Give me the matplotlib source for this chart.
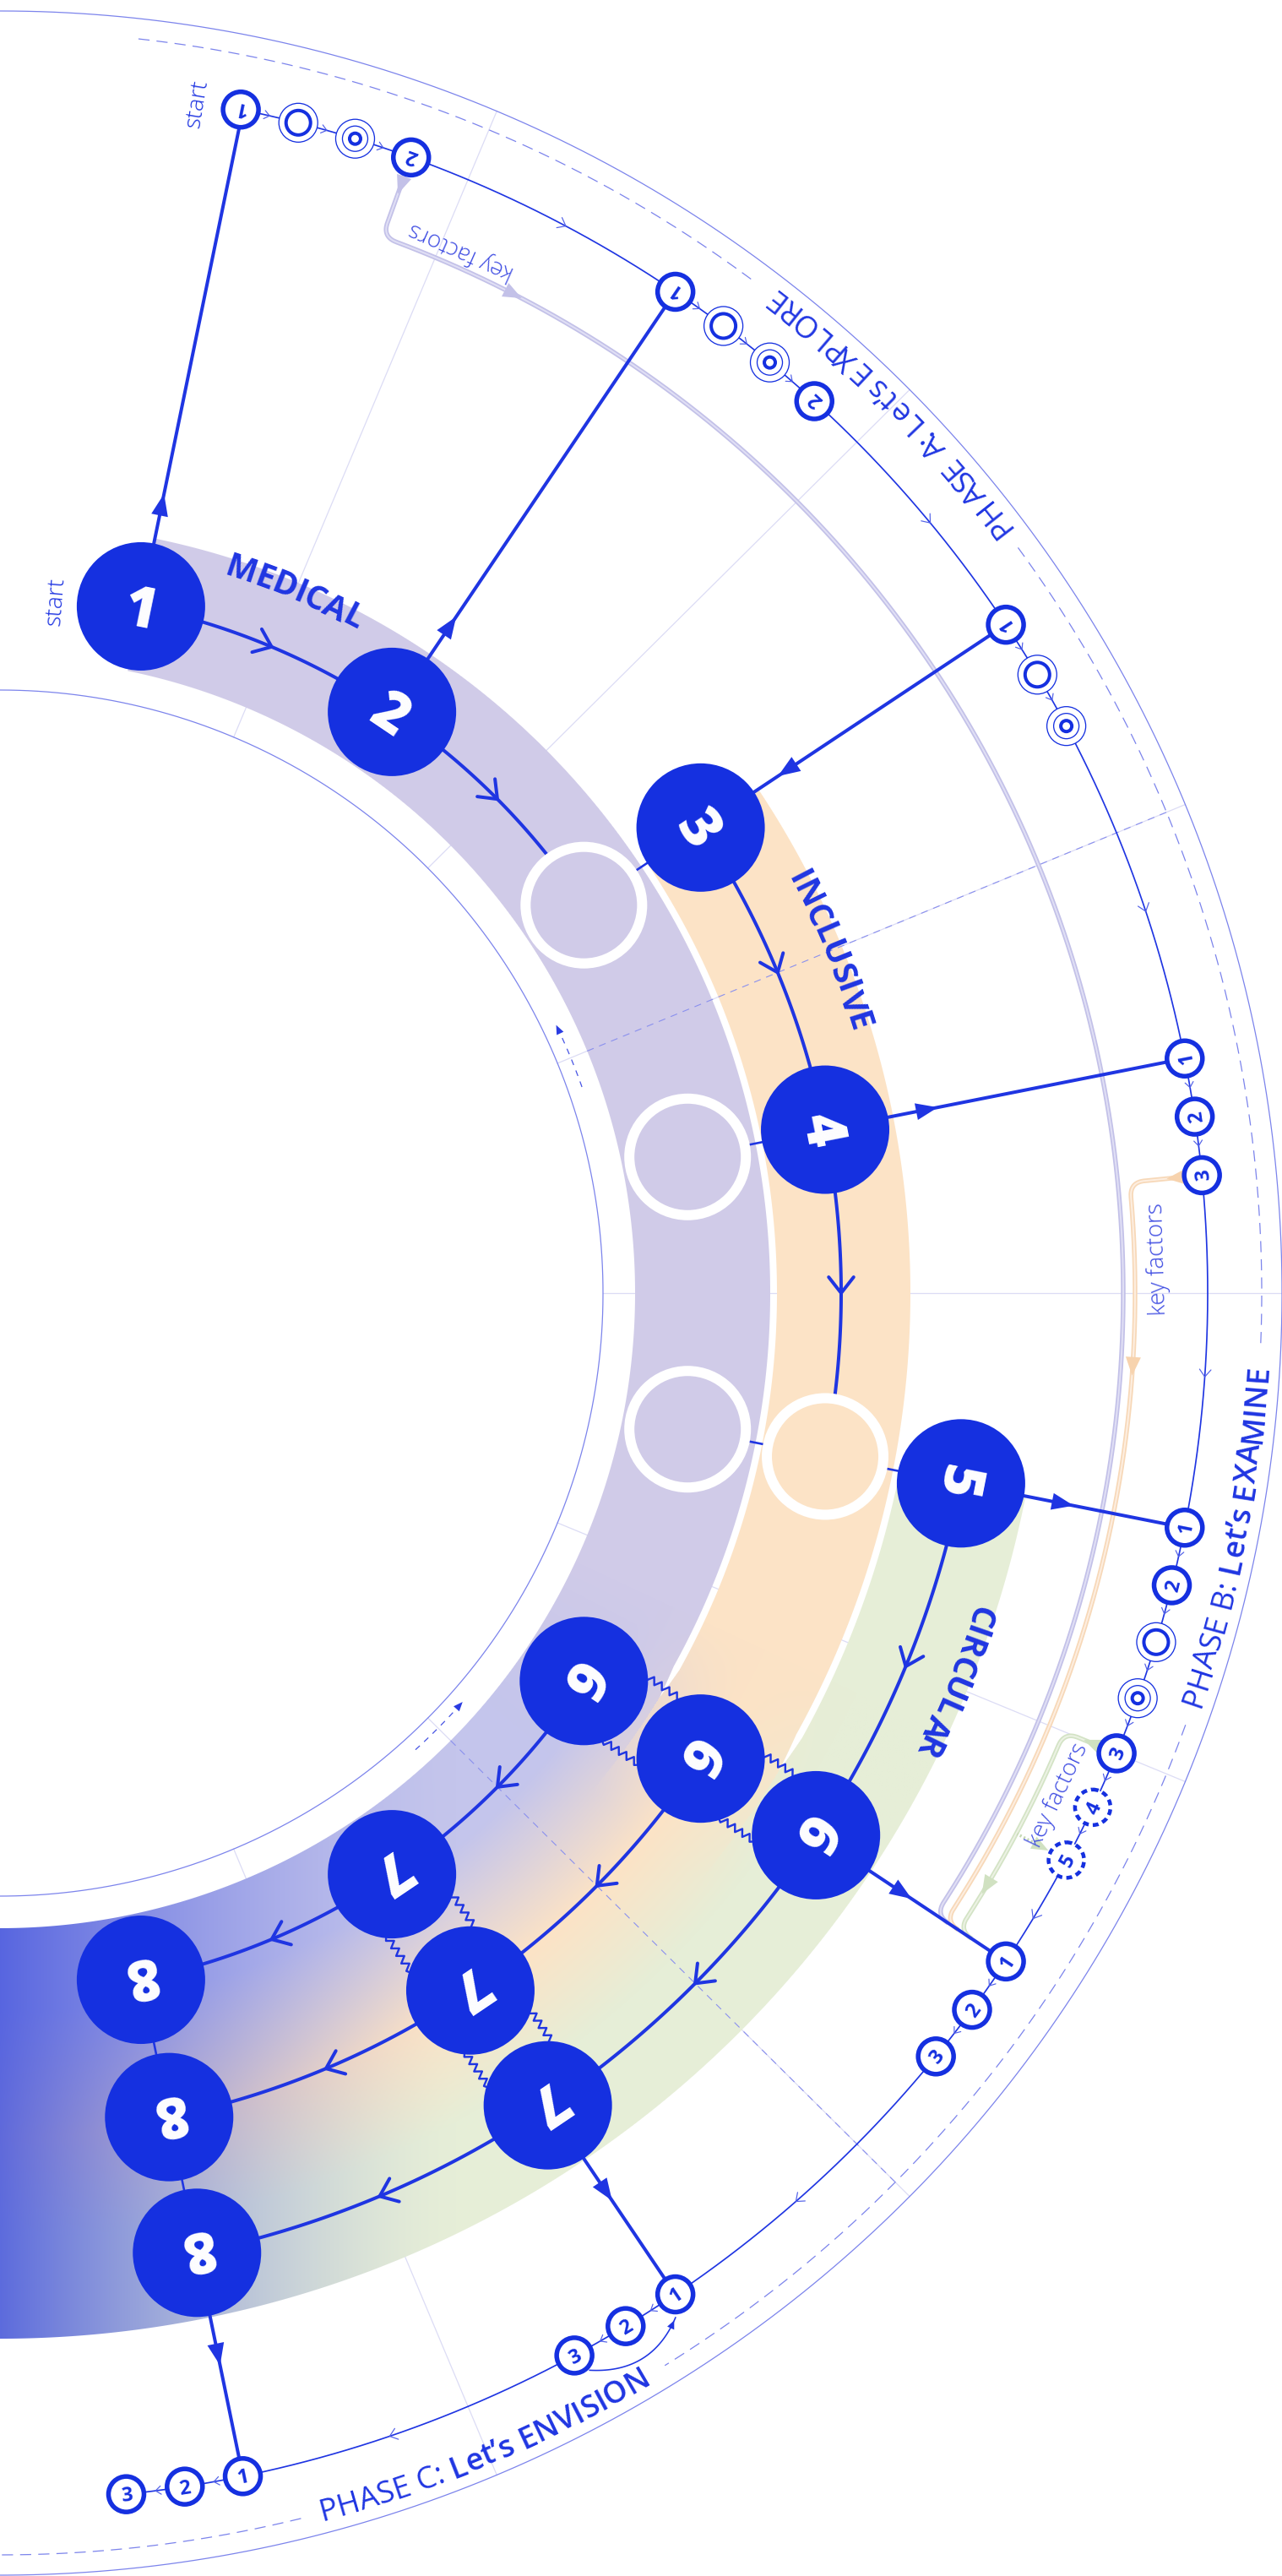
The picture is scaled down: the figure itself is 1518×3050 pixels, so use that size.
import numpy as np
import matplotlib
matplotlib.use("Agg")
import matplotlib.pyplot as plt
from matplotlib.patches import Circle, Polygon
from matplotlib.font_manager import FontProperties
from matplotlib.textpath import TextToPath

plt.rcParams['font.family'] = ['Open Sans', 'DejaVu Sans']
plt.rcParams['lines.scale_dashes'] = False

# %% data
W, H = 1518, 3050
CX, CY = 0.0, 1531.0
R_OUT, R_DASH, R_PHASE, R_IN = 1518, 1494, 1430, 714

step_angles = [11.6, 34.0, 56.4, 78.8, 101.2, 123.6, 146.0, 168.4]
grid_angles = [22.8, 45.2, 67.6, 90.0, 112.4, 134.8, 157.2]
phase_bounds = [67.6, 134.8]
track_r = {"M": 830, "I": 996, "C": 1160}

ring_names = ["MEDICAL", "INCLUSIVE", "CIRCULAR"]
ring_label_angle = [22.8, 67.6, 112.2]
ring_label_r = [905, 1068, 1224]

big_nodes = [("1", 11.6, "M"), ("2", 34.0, "M"), ("3", 56.4, "I"), ("4", 78.8, "I"),
             ("5", 101.2, "C"),
             ("6", 123.6, "M"), ("6", 123.6, "I"), ("6", 123.6, "C"),
             ("7", 146.0, "M"), ("7", 146.0, "I"), ("7", 146.0, "C"),
             ("8", 168.4, "M"), ("8", 168.4, "I"), ("8", 168.4, "C")]
hollow_nodes = [(56.4, "M"), (78.8, "M"), (101.2, "M"), (101.2, "I")]

ring_paths = [[(11.6, "M"), (34.0, "M"), (56.4, "M")],
              [(56.4, "I"), (78.8, "I"), (101.2, "I")],
              [(101.2, "C"), (123.6, "C"), (146.0, "C"), (168.4, "C")],
              [(123.6, "I"), (146.0, "I"), (168.4, "I")],
              [(123.6, "M"), (146.0, "M"), (168.4, "M")]]
straight_links = [(56.4, "M", "I"), (78.8, "M", "I"), (101.2, "M", "I"), (101.2, "I", "C"),
                  (168.4, "M", "I"), (168.4, "I", "C")]
zigzag_links = [(123.6, "M", "I"), (123.6, "I", "C"), (146.0, "M", "I"), (146.0, "I", "C")]

# (angle, track, +1 = arrow points out to the phase track, -1 = points in)
phase_links = [(11.6, "M", 1), (34.0, "M", 1), (56.4, "I", -1), (78.8, "I", 1),
               (101.2, "C", 1), (123.6, "C", 1), (146.0, "C", 1), (168.4, "C", 1)]

phase_nodes = [(11.5, "num", "1"), (14.3, "ring", ""), (17.1, "target", ""), (19.9, "num", "2"),
               (34.0, "num", "1"), (36.8, "ring", ""), (39.6, "target", ""), (42.4, "num", "2"),
               (56.4, "num", "1"), (59.2, "ring", ""), (62.0, "target", ""),
               (78.8, "num", "1"), (81.6, "num", "2"), (84.4, "num", "3"),
               (101.2, "num", "1"), (104.0, "num", "2"), (106.8, "ring", ""), (109.6, "target", ""),
               (112.4, "num", "3"), (115.2, "dash", "4"), (118.0, "dash", "5"),
               (123.6, "num", "1"), (126.4, "num", "2"), (129.2, "num", "3"),
               (146.0, "num", "1"), (148.8, "num", "2"), (151.6, "num", "3"),
               (168.4, "num", "1"), (171.2, "num", "2"), (174.0, "num", "3")]

phase_labels = [("PHASE A: ", "Let\u2019s EXPLORE", "normal", 45.2),
                ("PHASE B: ", "Let\u2019s EXAMINE", "semibold", 101.2),
                ("PHASE C: ", "Let\u2019s ENVISION", "semibold", 157.2)]

key_start = [19.9, 84.4, 112.4]
key_r = [1330, 1344, 1363]
key_colors = [("#c3c1e8", "#e0dff5"), ("#f7d8b8", "#fdeee0"), ("#d3e3c5", "#ecf2e4")]
key_label_pos = [(23.9, 1349), (88.3, 1371), (115.4, 1386)]
key_join = 123.6

start_labels = [(4.6, 822), (9.4, 1428)]

# colours
BLUE = "#1530e0"
LINE = "#1f35e2"
THIN = "#7c84ec"
FAINT = "#dcdcf5"
LAV = (208, 203, 232)
PEACH = (252, 227, 198)
GREEN = (230, 238, 215)
LAV_M = (196, 197, 236)
DEEP = (70, 86, 222)


def P(a, r):
    t = np.radians(a)
    return CX + r * np.sin(t), CY - r * np.cos(t)


def tang(a):
    t = np.radians(a)
    return np.array([np.cos(t), np.sin(t)])


def radial(a):
    t = np.radians(a)
    return np.array([np.sin(t), -np.cos(t)])


def arc_xy(a1, a2, r, n=200):
    th = np.radians(np.linspace(a1, a2, n))
    return CX + r * np.sin(th), CY - r * np.cos(th)


def quad(p0, c, p1, n=20):
    p0, c, p1 = np.array(p0), np.array(c), np.array(p1)
    s = np.linspace(0, 1, n)[:, None]
    return (1 - s) ** 2 * p0 + 2 * s * (1 - s) * c + s ** 2 * p1


def px(v):
    return v * 0.72


fig = plt.figure(figsize=(W / 100, H / 100), dpi=100)
ax = fig.add_axes([0, 0, 1, 1])


def tri(p, d, L, Wd, color, z):
    d = np.asarray(d, float)
    d = d / np.linalg.norm(d)
    n = np.array([-d[1], d[0]])
    p = np.asarray(p, float)
    pts = [p + d * L / 2, p - d * L / 2 + n * Wd / 2, p - d * L / 2 - n * Wd / 2]
    ax.add_patch(Polygon(pts, closed=True, fc=color, ec="none", zorder=z))


def chevron(p, d, size, lw, color, z):
    d = np.asarray(d, float)
    d = d / np.linalg.norm(d)
    n = np.array([-d[1], d[0]])
    p = np.asarray(p, float)
    a = np.radians(38)
    q1 = p - size * (np.cos(a) * d + np.sin(a) * n)
    q2 = p - size * (np.cos(a) * d - np.sin(a) * n)
    ax.plot([q1[0], p[0], q2[0]], [q1[1], p[1], q2[1]], color=color, lw=lw,
            zorder=z, solid_capstyle="round", solid_joinstyle="miter")


def center_text(x, y, s, rot, size, color, weight, z, k=0.36):
    fs = size * 100 / 72
    off = k * fs
    ph = np.radians(rot)
    ax.text(x + off * np.sin(ph), y + off * np.cos(ph), s, rotation=rot,
            rotation_mode="anchor", ha="center", va="baseline", fontsize=size,
            color=color, weight=weight, zorder=z)


t2p = TextToPath()


def adv(ch, fp):
    a = t2p.get_text_width_height_descent("l" + ch + "l", fp, ismath=False)[0]
    b = t2p.get_text_width_height_descent("ll", fp, ismath=False)[0]
    w = (a - b) * 100 / 72
    if ch == " ":
        w = max(w, 0.27 * fp.get_size_in_points() * 100 / 72)
    return w


def curved(segs, tc, r_base, r_mid, ccw, size, color, z=9):
    items = []
    for s, wt in segs:
        fp = FontProperties(family="Open Sans", weight=wt, size=size)
        for ch in s:
            items.append((ch, fp, adv(ch, fp)))
    L = sum(i[2] for i in items)
    cum = 0.0
    for ch, fp, a in items:
        off = cum + a / 2 - L / 2
        d = np.degrees(off / r_mid)
        th = tc - d if ccw else tc + d
        rot = 180 - th if ccw else -th
        x, y = P(th, r_base)
        if ch != " ":
            ax.text(x, y, ch, fontproperties=fp, rotation=rot, rotation_mode="anchor",
                    ha="center", va="baseline", color=color, zorder=z)
        cum += a
    return np.degrees(L / 2 / r_mid)


# %% coloured bands as one image
x0, x1 = 0, 1242
y0, y1 = int(CY - 1242), int(CY + 1242)
X, Y = np.meshgrid(np.arange(x0, x1, dtype=np.float32) + 0.5,
                   np.arange(y0, y1, dtype=np.float32) + 0.5)
DX, DY = X - CX, Y - CY
RR = np.hypot(DX, DY)
TT = np.degrees(np.arctan2(DX, -DY))
g = 8 * np.clip((121.5 - TT) / 2.5, 0, 1)


def soft(v):
    return np.clip(v + 0.5, 0, 1)


def arcpx(a):
    return np.radians(TT - a) * RR


m_med = soft(RR - 752) * soft((916 - g / 2) - RR) * soft(arcpx(11.6))
m_inc = soft(RR - (916 + g / 2)) * soft((1082 - g / 2) - RR) * soft(arcpx(56.4))
m_cir = soft(RR - (1082 + g / 2)) * soft(1238 - RR) * soft(arcpx(101.2))
alpha = np.clip(m_med + m_inc + m_cir, 0, 1)

sharp = np.where((RR < 916)[..., None], np.array(LAV, np.float32),
                 np.where((RR < 1082)[..., None], np.array(PEACH, np.float32),
                          np.array(GREEN, np.float32)))
rs = [752, 850, 1000, 1120, 1238]
smooth = np.stack([np.interp(RR, rs, [LAV_M[k], LAV_M[k], PEACH[k], GREEN[k], GREEN[k]])
                   for k in range(3)], axis=-1).astype(np.float32)
s = np.clip((TT - 115) / 15, 0, 1)[..., None]
col = sharp * (1 - s) + smooth * s
w = (0.86 * np.clip(1 - X / 540, 0, 1) ** 1.5 * np.clip((TT - 124) / 16, 0, 1))[..., None]
col = col * (1 - w) + np.array(DEEP, np.float32) * w
img = np.dstack([col / 255.0, alpha]).astype(np.float32)
ax.imshow(img, extent=(x0, x1, y1, y0), origin="upper", interpolation="nearest", zorder=1)

# %% grid, circles
for a in grid_angles:
    (xa, ya), (xb, yb) = P(a, R_IN), P(a, R_OUT)
    ax.plot([xa, xb], [ya, yb], color=FAINT, lw=0.9, zorder=0.5)

xo, yo = arc_xy(0, 180, R_OUT, 600)
ax.plot(xo, yo, color=THIN, lw=0.9, zorder=2)
xo, yo = arc_xy(0, 180, R_IN, 600)
ax.plot(xo, yo, color=THIN, lw=0.9, zorder=2)

for b in phase_bounds:
    (xa, ya), (xb, yb) = P(b, 752), P(b, R_DASH)
    ax.plot([xa, xb], [ya, yb], color="#8a90ee", lw=0.8, zorder=3, dashes=(6, 5))
    xa, ya = arc_xy(b + 2.9, b - 2.6, 731, 40)
    ax.plot(xa, ya, color="#4654e4", lw=0.9, zorder=3, dashes=(5, 5))
    tri(P(b - 2.9, 731), -tang(b - 2.9), 11, 9, "#2a3ce2", 3)

# %% phase labels (curved) and the dashed ring with gaps
gaps = []
for head, tail, wt, c in phase_labels:
    hs = curved([(head, "normal"), (tail, wt)], c, 1503, 1490, True, 26, LINE)
    gaps.append((c - hs - 0.9, c + hs + 0.9))
starts = [6.3] + [gp[1] for gp in gaps]
ends = [gp[0] for gp in gaps] + [180]
for a1, a2 in zip(starts, ends):
    xd, yd = arc_xy(a1, a2, R_DASH, 400)
    ax.plot(xd, yd, color=THIN, lw=0.9, zorder=2, dashes=(9.5, 6))

# %% key factor lines
for ks, kr, (c_out, c_in) in zip(key_start, key_r, key_colors):
    rho = 18
    pts = [np.array(P(ks, 1406)), np.array(P(ks, kr + rho))]
    da = np.degrees(rho / kr)
    corner1 = quad(P(ks, kr + rho), P(ks, kr), P(ks + da, kr))
    xa, ya = arc_xy(ks + da, key_join - da, kr, 300)
    corner2 = quad(P(key_join - da, kr), P(key_join, kr), P(key_join, kr + rho))
    xs = np.concatenate([[pts[0][0], pts[1][0]], corner1[:, 0], xa, corner2[:, 0]])
    ys = np.concatenate([[pts[0][1], pts[1][1]], corner1[:, 1], ya, corner2[:, 1]])
    ax.plot(xs, ys, color=c_out, lw=px(5.5), zorder=3, solid_capstyle="butt")
    ax.plot(xs, ys, color=c_in, lw=px(2.0), zorder=3.1, solid_capstyle="butt")

tri(P(19.9, 1395), -radial(19.9), 22, 18, "#c3c1e8", 3.2)
tri(P(27.2, 1330), tang(27.2), 22, 18, "#c3c1e8", 3.2)
tri(P(84.4, 1399), -radial(84.4), 22, 18, "#f7d3ae", 3.2)
tri(P(93.7, 1344), tang(93.7), 22, 18, "#f7d3ae", 3.2)
tri(P(112.4, 1399), -radial(112.4), 22, 18, "#d0e1c1", 3.2)
tri(P(121.0, 1363), tang(121.0), 22, 18, "#d0e1c1", 3.2)
(xa, ya), (xb, yb) = P(118.0, 1363), P(118.0, 1392)
ax.plot([xa, xb], [ya, yb], color="#c4d8b4", lw=px(3.5), zorder=3, dashes=(1.5, 2))
tri(P(118.0, 1396), radial(118.0), 20, 16, "#d0e1c1", 3.2)

for (a, r) in key_label_pos:
    x, y = P(a, r)
    center_text(x, y, "key factors", 180 - a, 20, "#3d4be2", "light", 9, k=0.27)

# %% phase arc with small chevrons
xa, ya = arc_xy(phase_nodes[0][0], phase_nodes[-1][0], R_PHASE, 1200)
ax.plot(xa, ya, color=LINE, lw=px(1.7), zorder=4)
for (a1, _, _), (a2, _, _) in zip(phase_nodes[:-1], phase_nodes[1:]):
    gap = a2 - a1
    if gap < 4:
        m, sz = (a1 + a2) / 2, 8
    else:
        m, sz = a1 + 0.57 * gap, 11
    chevron(P(m, R_PHASE), tang(m), sz, px(1.2), "#5261e8", 4.1)

# loop from C3 back to C1
loop = quad(P(151.3, 1454), P(148.9, 1494), P(146.6, 1453), 40)
ax.plot(loop[:, 0], loop[:, 1], color=LINE, lw=px(1.6), zorder=4)
tri(loop[-1] - (loop[-1] - loop[-3]) * 1.2, loop[-1] - loop[-3], 10, 9, LINE, 4)

# %% ring paths
hset = set(hollow_nodes)
for path in ring_paths:
    for (a1, t1), (a2, t2) in zip(path[:-1], path[1:]):
        r = track_r[t1]
        a_end = a2 - np.degrees(76 / r) if (a2, t2) in hset else a2
        xa, ya = arc_xy(a1, a_end, r, 120)
        ax.plot(xa, ya, color=LINE, lw=px(4), zorder=4)
        m = (a1 + a2) / 2
        chevron(P(m, r), tang(m), 24, px(4), LINE, 4.1)

for a, t1, t2 in straight_links:
    (xa, ya), (xb, yb) = P(a, track_r[t1] + 68), P(a, track_r[t2] - 68)
    ax.plot([xa, xb], [ya, yb], color=LINE, lw=px(2.6), zorder=4, solid_capstyle="butt")

for a, t1, t2 in zigzag_links:
    r1, r2 = track_r[t1], track_r[t2]
    t = tang(a)
    for side in (-1, 1):
        pa = np.array(P(a, r1 + 56)) + side * 46 * t
        pb = np.array(P(a, r2 - 56)) + side * 46 * t
        N = 10
        pts = []
        for i in range(N + 1):
            q = pa + (i / N) * (pb - pa)
            if 0 < i < N:
                q = q + (4 if i % 2 else -4) * t
            pts.append(q)
        pts = np.array(pts)
        ax.plot(pts[:, 0], pts[:, 1], color=LINE, lw=px(2.4), zorder=4)

# %% links from steps to the phase track
for a, t, sgn in phase_links:
    r = track_r[t]
    (xa, ya), (xb, yb) = P(a, r), P(a, R_PHASE)
    ax.plot([xa, xb], [ya, yb], color=LINE, lw=px(4), zorder=5)
    tri(P(a, r + 123), sgn * radial(a), 26, 20, LINE, 5)

# %% hollow, big and small nodes
for a, t in hollow_nodes:
    ax.add_patch(Circle(P(a, track_r[t]), 69, fc="none", ec="white", lw=px(12), zorder=6))

for lab, a, t in big_nodes:
    x, y = P(a, track_r[t])
    ax.add_patch(Circle((x, y), 76, fc=BLUE, ec="none", zorder=7))
    center_text(x, y, lab, -a, 48, "white", "heavy", 8)

for a, kind, lab in phase_nodes:
    x, y = P(a, R_PHASE)
    if kind == "num":
        ax.add_patch(Circle((x, y), 21, fc="white", ec=BLUE, lw=px(5.5), zorder=7))
        center_text(x, y, lab, 180 - a, 17, BLUE, "bold", 8)
    elif kind == "dash":
        ax.add_patch(Circle((x, y), 21, fc="white", ec=BLUE, lw=px(4.5), zorder=7,
                            linestyle=(0, (5, 3.5))))
        center_text(x, y, lab, 180 - a, 17, BLUE, "bold", 8)
    elif kind == "ring":
        ax.add_patch(Circle((x, y), 23, fc="white", ec=BLUE, lw=px(1.3), zorder=7))
        ax.add_patch(Circle((x, y), 14.5, fc="none", ec=BLUE, lw=px(4), zorder=7.5))
    else:
        ax.add_patch(Circle((x, y), 23, fc="white", ec=BLUE, lw=px(1.3), zorder=7))
        ax.add_patch(Circle((x, y), 15, fc="none", ec=BLUE, lw=px(1.3), zorder=7.5))
        ax.add_patch(Circle((x, y), 6.5, fc="none", ec=BLUE, lw=px(4), zorder=7.5))

# %% texts
for name, a, r in zip(ring_names, ring_label_angle, ring_label_r):
    curved([(name, "bold")], a, r - 14, r, False, 28, LINE)

for a, r in start_labels:
    x, y = P(a, r)
    center_text(x, y, "start", 90 - a, 20, LINE, "light", 9, k=0.27)

ax.set_xlim(0, W)
ax.set_ylim(H, 0)
ax.axis("off")
fig.savefig("out.png", dpi=100, facecolor="white")
